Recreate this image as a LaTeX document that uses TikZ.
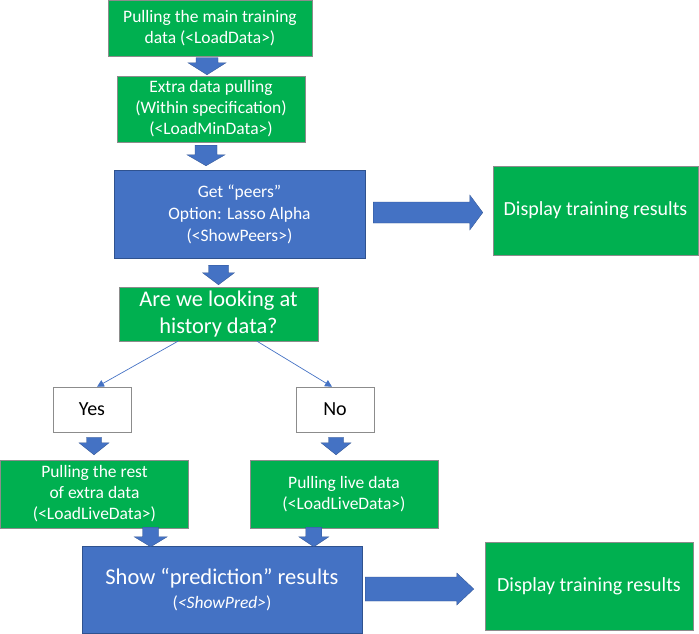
\documentclass[tikz,border=0pt]{standalone}
\usepackage{fontspec}
\setmainfont{Carlito}
\usetikzlibrary{calc,arrows.meta}
\definecolor{ogreen}{HTML}{00B050}
\definecolor{oblue}{HTML}{4472C4}
\definecolor{oblued}{HTML}{2F528F}
\tikzset{
  gbox/.style={draw=black!45, line width=0.4pt, fill=ogreen, text=white, align=center, inner sep=0pt, font=\fontsize{17.5}{21}\selectfont},
  bbox/.style={draw=oblued, line width=0.4pt, fill=oblue, text=white, align=center, inner sep=0pt, font=\fontsize{17.5}{22}\selectfont},
  wbox/.style={draw=black!45, line width=0.5pt, fill=white, text=black, align=center, inner sep=0pt, font=\fontsize{20}{24}\selectfont},
  blk/.style={fill=oblue, draw=oblued, line width=0.3pt},
  branch/.style={draw=oblue, line width=0.7pt, -{Triangle[length=7pt,width=7pt]}},
}
% vertical block arrow: #1 x ref, #2 start, #3 tip, #4 shaft half, #5 head half, #6 head length
\newcommand\vblk[6]{%
  \filldraw[blk] let \p1=(#1), \p2=(#2), \p3=(#3) in
    (\x1-#4,\y2) -- (\x1+#4,\y2) -- (\x1+#4,\y3+#6) -- (\x1+#5,\y3+#6) -- (\x1,\y3)
    -- (\x1-#5,\y3+#6) -- (\x1-#4,\y3+#6) -- cycle;}
% horizontal block arrow: #1 y ref, #2 start, #3 tip, #4 shaft half, #5 head half, #6 head length
\newcommand\hblk[6]{%
  \filldraw[blk] let \p1=(#1), \p2=(#2), \p3=(#3) in
    (\x2,\y1+#4) -- (\x3-#6,\y1+#4) -- (\x3-#6,\y1+#5) -- (\x3,\y1) -- (\x3-#6,\y1-#5)
    -- (\x3-#6,\y1-#4) -- (\x2,\y1-#4) -- cycle;}
\begin{document}
\begin{tikzpicture}[x=1pt,y=-1pt]
\useasboundingbox (0,0) rectangle (699,633);

\node[gbox, minimum width=204pt, minimum height=56pt] (b1) at (210,28.5)
  {Pulling the main training\\data (<LoadData>)};
\node[gbox, minimum width=188pt, minimum height=66pt] (b2) at (211,109)
  {Extra data pulling\\(Within specification)\\(<LoadMinData>)};
\node[bbox, minimum width=251pt, minimum height=88pt] (b3) at (239.5,214)
  {Get “peers”\\Option: Lasso Alpha\\(<ShowPeers>)};
\node[gbox, minimum width=205pt, minimum height=89pt, font=\fontsize{20}{24}\selectfont] (d1) at (595.5,210.5)
  {Display training results};
\node[gbox, minimum width=199pt, minimum height=54pt, font=\fontsize{22.4}{27}\selectfont] (q) at (218.5,314)
  {Are we looking at\\history data?};
\node[wbox, minimum width=78pt, minimum height=45pt] (yes) at (92,409.5) {Yes};
\node[wbox, minimum width=78pt, minimum height=45pt] (no) at (335,409.5) {No};
\node[gbox, minimum width=188pt, minimum height=68pt] (g1) at (94.5,494)
  {Pulling the rest\\of extra data\\(<LoadLiveData>)};
\node[gbox, minimum width=188pt, minimum height=68pt] (g2) at (344,494)
  {Pulling live data\\(<LoadLiveData>)};
\node[bbox, minimum width=280pt, minimum height=87pt] (p) at (222,589.5)
  {{\fontsize{22.5}{27}\selectfont Show “prediction” results}\\[2pt]
   {\fontsize{17.5}{21}\selectfont (\textit{<ShowPred>})}};
\node[gbox, minimum width=208pt, minimum height=88pt, font=\fontsize{20}{24}\selectfont] (d2) at (589,586)
  {Display training results};

% block arrows
\vblk{$(b1)+(-3pt,0)$}{$(b1.south)+(0,-1pt)$}{$(b2.north)+(0,1pt)$}{11pt}{19pt}{12pt}
\vblk{$(b2)+(-5pt,0)$}{$(b2.south)+(0,-3pt)$}{$(b3.north)+(0,4pt)$}{11pt}{19pt}{11pt}
\vblk{q}{$(b3.south)+(0,-7pt)$}{$(q.north)+(0,2pt)$}{10pt}{16pt}{12pt}
\vblk{$(yes)+(2pt,0)$}{$(yes.south)+(0,-5pt)$}{$(g1.north)+(0,5pt)$}{7.5pt}{15pt}{12pt}
\vblk{$(no)+(1pt,0)$}{$(no.south)+(0,-5pt)$}{$(g2.north)+(0,5pt)$}{7.5pt}{15pt}{12pt}
\vblk{$(g1.south east)+(-38pt,0)$}{$(g1.south)+(0,1pt)$}{$(p.north)+(0,-1pt)$}{8pt}{16.5pt}{10pt}
\vblk{$(g2.south west)+(64pt,0)$}{$(g2.south)+(0,1pt)$}{$(p.north)+(0,-1pt)$}{8pt}{15pt}{10pt}
\hblk{$(b3)+(0,1.5pt)$}{$(b3.east)+(8pt,0)$}{$(d1.west)+(-10pt,0)$}{10.5pt}{17.5pt}{13pt}
\hblk{$(p)+(0,0.5pt)$}{$(p.east)+(3pt,0)$}{$(d2.west)+(-11pt,0)$}{12pt}{16pt}{17pt}

% branches
\draw[branch] ($(q.south)+(-40.5pt,0)$) -- ($(yes.north)+(5pt,0)$);
\draw[branch] ($(q.south)+(38.5pt,0)$) -- ($(no.north)+(-3pt,0)$);
\end{tikzpicture}
\end{document}
